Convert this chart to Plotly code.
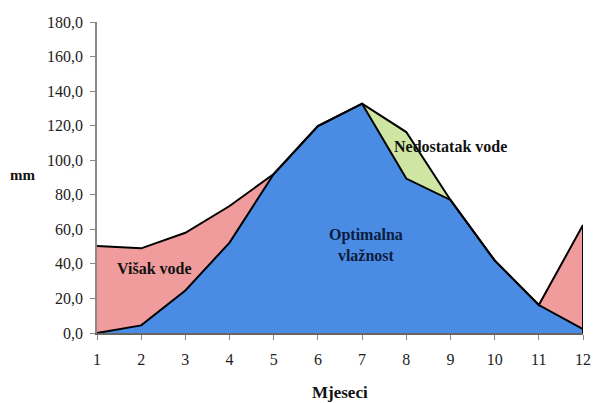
import plotly.graph_objects as go

months = [1, 2, 3, 4, 5, 6, 7, 8, 9, 10, 11, 12]
precipitation = [50.3, 49.0, 58.0, 73.5, 92.0, 119.7, 132.7, 89.4, 77.0, 42.0, 16.2, 62.5]
evapotranspiration = [0.0, 4.4, 24.6, 52.3, 92.0, 119.7, 132.7, 116.3, 77.0, 42.0, 16.2, 2.3]
y_ticks = [0, 20, 40, 60, 80, 100, 120, 140, 160, 180]
y_tick_labels = ["0,0", "20,0", "40,0", "60,0", "80,0", "100,0", "120,0", "140,0", "160,0", "180,0"]

optimal = [min(p, e) for p, e in zip(precipitation, evapotranspiration)]

RED = "#F09C9C"
GREEN = "#CFE6A2"
BLUE = "#4A8CE4"
FONT = "Liberation Serif"

fig = go.Figure()
fig.add_trace(go.Scatter(x=months, y=precipitation, fill="tozeroy", fillcolor=RED,
                         mode="none", showlegend=False, hoverinfo="skip"))
fig.add_trace(go.Scatter(x=months, y=evapotranspiration, fill="tozeroy", fillcolor=GREEN,
                         mode="none", showlegend=False, hoverinfo="skip"))
fig.add_trace(go.Scatter(x=months, y=optimal, fill="tozeroy", fillcolor=BLUE,
                         mode="none", showlegend=False, hoverinfo="skip"))
fig.add_trace(go.Scatter(x=months, y=precipitation, mode="lines",
                         line=dict(color="black", width=2), showlegend=False))
fig.add_trace(go.Scatter(x=months, y=evapotranspiration, mode="lines",
                         line=dict(color="black", width=2), showlegend=False))
# right edge of the last red area
fig.add_trace(go.Scatter(x=[months[-1], months[-1]], y=[0, precipitation[-1]], mode="lines",
                         line=dict(color="black", width=2), showlegend=False))

fig.update_layout(
    width=595, height=403,
    margin=dict(l=97, r=12, t=22, b=70, autoexpand=False),
    paper_bgcolor="white", plot_bgcolor="white",
    font=dict(family=FONT, size=16, color="#222"),
    xaxis=dict(range=[1, 12], tickvals=months, ticks="outside", ticklen=5,
               tickcolor="#888", showline=True, linecolor="#666", linewidth=1.5,
               showgrid=False, zeroline=False, ticklabelstandoff=6,
               tickfont=dict(family=FONT, size=16, color="#222")),
    yaxis=dict(range=[0, 180], tickvals=y_ticks, ticktext=y_tick_labels, ticks="outside",
               ticklen=5, tickcolor="#888", showline=True, linecolor="#888", linewidth=1.5,
               showgrid=False, zeroline=False, ticklabelstandoff=4,
               tickfont=dict(family=FONT, size=16, color="#222")),
    annotations=[
        dict(text="<b>mm</b>", xref="paper", yref="paper", x=-0.154, y=0.508,
             xanchor="center", yanchor="middle",
             showarrow=False, font=dict(family=FONT, size=15, color="#111")),
        dict(text="<b>Mjeseci</b>", xref="paper", yref="paper", x=0.5, y=-0.19,
             xanchor="center", yanchor="middle",
             showarrow=False, font=dict(family=FONT, size=17, color="#111")),
        dict(text="<b>Višak vode</b>", xref="x", yref="y", x=2.31, y=37.6,
             xanchor="center", yanchor="middle",
             showarrow=False, font=dict(family=FONT, size=16, color="#111")),
        dict(text="<b>Optimalna<br>vlažnost</b>", xref="x", yref="y", x=7.09, y=51,
             xanchor="center", yanchor="middle",
             showarrow=False, font=dict(family=FONT, size=16, color="#0d1b3d")),
        dict(text="<b>Nedostatak vode</b>", xref="x", yref="y", x=9.0, y=108,
             xanchor="center", yanchor="middle",
             showarrow=False, font=dict(family=FONT, size=16, color="#111")),
    ],
)

fig.write_html("out.html",
               config={"displayModeBar": False},
               post_script="document.body.style.margin='0';document.body.style.overflow='hidden';")
